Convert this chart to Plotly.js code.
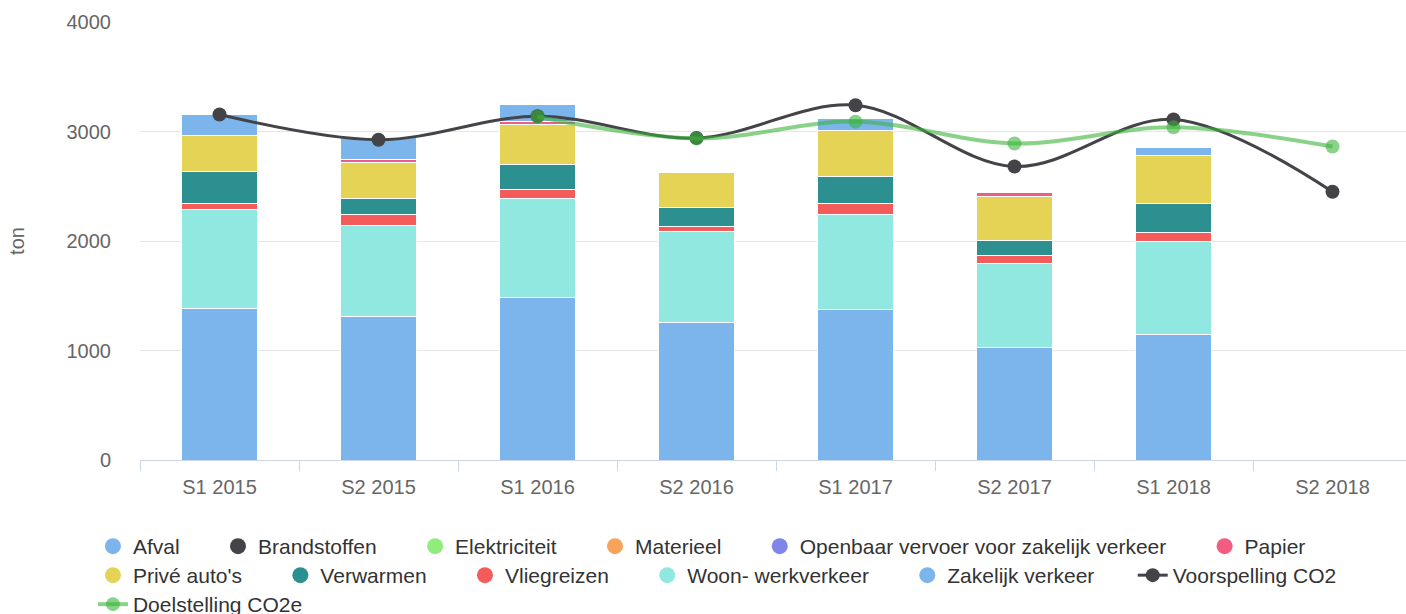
<!DOCTYPE html>
<html>
<head>
<meta charset="utf-8">
<script src="https://cdn.plot.ly/plotly-3.0.1.min.js"></script>
<style>
html,body{margin:0;padding:0;overflow:hidden;background:#fff;}
#chart{width:1412px;height:614px;}
</style>
</head>
<body>
<div id="chart"></div>
<script>
// Categories
const categories = ['S1 2015','S2 2015','S1 2016','S2 2016','S1 2017','S2 2017','S1 2018','S2 2018'];

// Stacked series (tons), legend order
const afval          = [183, 200, 161,   0, 115,   0,  71, null];
const brandstoffen   = [0, 0, 0, 0, 0, 0, 0, null];
const elektriciteit  = [0, 0, 0, 0, 0, 0, 0, null];
const materieel      = [0, 0, 0, 0, 0, 0, 0, null];
const openbaarVervoer= [0, 0, 0, 0, 0, 0, 0, null];
const papier         = [0,  28,  29,   0,   0,  42,   0, null];
const priveAutos     = [333, 327, 358, 322, 420, 396, 447, null];
const verwarmen      = [297, 150, 231, 180, 248, 143, 262, null];
const vliegreizen    = [46,  97,  82,  37,  96,  67,  82, null];
const woonWerk       = [904, 837, 903, 835, 870, 772, 851, null];
const zakelijk       = [1388, 1306, 1487, 1256, 1372, 1027, 1143, null];

// Line series
const voorspelling   = [3155, 2925, 3140, 2940, 3240, 2680, 3110, 2450];
const doelstelling   = [null, null, 3135, 2937, 3090, 2891, 3038, 2863];

const seriesNames = ['Afval','Brandstoffen','Elektriciteit','Materieel','Openbaar vervoer voor zakelijk verkeer','Papier',"Privé auto's",'Verwarmen','Vliegreizen','Woon- werkverkeer','Zakelijk verkeer'];
const seriesData  = [afval, brandstoffen, elektriciteit, materieel, openbaarVervoer, papier, priveAutos, verwarmen, vliegreizen, woonWerk, zakelijk];
const seriesColors = ['#7cb5ec','#434348','#90ed7d','#f7a35c','#8085e9','#f15c80','#e4d354','#2b908f','#f45b5b','#91e8e1','#7cb5ec'];
// legend row of each bar series (row 1: first six, row 2: the rest)
const seriesLegendRow = ['legend','legend','legend','legend','legend','legend','legend2','legend2','legend2','legend2','legend2'];

// legend item spacing (Highcharts-like item distance)
const pad = '\u00a0'.repeat(5) + '\u2009';

const traces = [];
// bars: bottom of stack is the last series
for (let i = seriesNames.length - 1; i >= 0; i--) {
  traces.push({
    type: 'bar', x: categories, y: seriesData[i], name: seriesNames[i],
    showlegend: false,
    marker: {color: seriesColors[i], line: {color: '#ffffff', width: 1}},
    hoverinfo: 'x+y+name'
  });
}
// legend entries with round symbols
for (let i = 0; i < seriesNames.length; i++) {
  traces.push({
    type: 'scatter', mode: 'markers', x: [null], y: [null], name: seriesNames[i] + pad,
    legend: seriesLegendRow[i], legendrank: i + 1,
    marker: {color: seriesColors[i], size: 16, symbol: 'circle'},
    hoverinfo: 'skip'
  });
}
traces.push({
  type: 'scatter', mode: 'lines+markers', x: categories, y: voorspelling, name: 'Voorspelling CO2' + pad,
  legend: 'legend2', legendrank: 12,
  line: {color: '#434348', width: 3, shape: 'spline', smoothing: 1},
  marker: {color: '#434348', size: 14}
});
traces.push({
  type: 'scatter', mode: 'lines+markers', x: categories, y: doelstelling, name: 'Doelstelling CO2e' + pad,
  legend: 'legend3', legendrank: 13,
  line: {color: 'rgba(60,180,60,0.6)', width: 4, shape: 'spline', smoothing: 1},
  marker: {color: 'rgba(60,180,60,0.6)', size: 14}
});

const font = '"Liberation Sans", Arial, Helvetica, sans-serif';
function legendRow(y) {
  return {
    orientation: 'h', x: -0.037, xanchor: 'left', y: y, yanchor: 'top',
    traceorder: 'normal',
    font: {size: 21, color: '#333333', family: font},
    bgcolor: 'rgba(0,0,0,0)'
  };
}
const layout = {
  width: 1412, height: 614,
  margin: {l: 140, r: 0, t: 22, b: 154, autoexpand: false},
  barmode: 'stack', bargap: 0.52,
  paper_bgcolor: '#ffffff', plot_bgcolor: '#ffffff',
  font: {family: font, color: '#666666', size: 20},
  showlegend: true,
  xaxis: {
    type: 'category', categoryorder: 'array', categoryarray: categories,
    tickson: 'boundaries', ticks: 'outside', ticklen: 10, tickcolor: '#ccd6eb', tickwidth: 1,
    showline: true, linecolor: '#ccd6eb', linewidth: 1,
    showgrid: false, zeroline: false, ticklabelstandoff: 9,
    tickfont: {size: 20, color: '#666666', family: font}
  },
  yaxis: {
    range: [0, 4000], tickvals: [0, 1000, 2000, 3000, 4000],
    showgrid: true, gridcolor: '#e6e6e6', gridwidth: 1, zeroline: false, showline: false,
    ticks: '', ticklabelstandoff: 28,
    tickfont: {size: 20, color: '#666666', family: font},
    title: {text: 'ton', font: {size: 20, color: '#666666', family: font}, standoff: 36}
  },
  legend: legendRow(-0.1507),
  legend2: legendRow(-0.2169),
  legend3: legendRow(-0.2831)
};

Plotly.newPlot('chart', traces, layout, {displayModeBar: false, staticPlot: true});
</script>
</body>
</html>
